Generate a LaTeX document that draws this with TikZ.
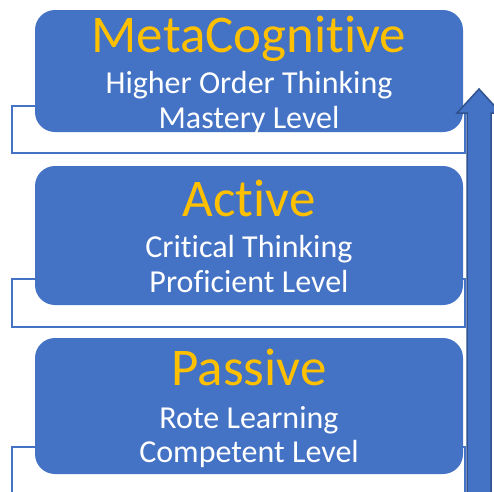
\documentclass[tikz,border=0pt]{standalone}
\usepackage{fontspec}
\setmainfont{Carlito}[Ligatures=NoCommon]
\definecolor{boxblue}{HTML}{4472C4}
\definecolor{arrowedge}{HTML}{2F528F}
\definecolor{titlegold}{HTML}{FFC000}
\begin{document}
\begin{tikzpicture}[x=1pt,y=-1pt,
  box/.style={fill=boxblue, draw=none, rounded corners=20pt, inner sep=0pt, minimum width=428pt},
  frame/.style={draw=boxblue, line width=2pt, fill=white},
  ttl/.style={text=titlegold, font=\fontsize{53}{53}\selectfont, anchor=base, inner sep=0pt},
  sub/.style={text=white, font=\fontsize{32}{32}\selectfont, anchor=base, inner sep=0pt}]
\useasboundingbox (0,0) rectangle (494,491);
% frames behind boxes
\draw[frame] (12,106) rectangle (465,153);
\draw[frame] (12,279) rectangle (465,327);
\draw[frame] (12,447) rectangle (465,500);
% boxes
\node[box, minimum height=122pt] (b1) at (249,71) {};
\node[box, minimum height=139pt] (b2) at (249,235.5) {};
\node[box, minimum height=136pt] (b3) at (249,406) {};
% texts
\node[ttl] (t1) at (249,52) {MetaCognitive};
\node[sub] (s1a) at (249,93) {Higher Order Thinking};
\node[sub] (s1b) at (249,128) {Mastery Level};
\node[ttl] (t2) at (249,216) {Active};
\node[sub] (s2a) at (249,257) {Critical Thinking};
\node[sub] (s2b) at (249,292) {Proficient Level};
\node[ttl] (t3) at (249,385) {Passive};
\node[sub] (s3a) at (249,428) {Rote Learning};
\node[sub] (s3b) at (249,462) {Competent Level};
% arrow
\draw[fill=boxblue, draw=arrowedge, line width=1.5pt, line join=miter]
  (467,500) -- (467,113) -- (457,113) -- (479,89) -- (501,113) -- (491,113) -- (491,500) -- cycle;
\end{tikzpicture}
\end{document}
